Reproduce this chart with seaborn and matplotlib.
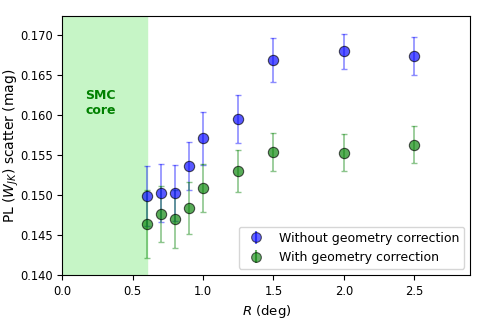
import numpy as np
import pandas as pd
import matplotlib
matplotlib.use("Agg")
import matplotlib.pyplot as plt
import seaborn as sns

R = [0.6, 0.7, 0.8, 0.9, 1.0, 1.25, 1.5, 2.0, 2.5]
scatter_without = [0.1499, 0.1503, 0.1503, 0.1536, 0.1571, 0.1595, 0.1669, 0.1680, 0.1674]
err_without = [0.0038, 0.0036, 0.0035, 0.0030, 0.0033, 0.0030, 0.0027, 0.0022, 0.0024]
scatter_with = [0.1464, 0.1477, 0.1470, 0.1484, 0.1509, 0.1530, 0.1554, 0.1553, 0.1563]
err_with = [0.0042, 0.0035, 0.0036, 0.0032, 0.0030, 0.0026, 0.0024, 0.0023, 0.0023]
labels = ["Without geometry correction", "With geometry correction"]
colors = ["blue", "green"]

df = pd.DataFrame({
    "R": R * 2,
    "scatter": scatter_without + scatter_with,
    "err": err_without + err_with,
    "series": [labels[0]] * len(R) + [labels[1]] * len(R),
})

fig, ax = plt.subplots(figsize=(4.8, 3.2), dpi=100)
ax.axvspan(0, 0.6, color="#c6f5c6", zorder=0)

handles = []
for lab, col in zip(labels, colors):
    sub = df[df["series"] == lab]
    ax.errorbar(sub["R"], sub["scatter"], yerr=sub["err"], fmt="none",
                ecolor=col, alpha=0.45, capsize=2.5, elinewidth=1.2, zorder=2)
    sns.scatterplot(data=sub, x="R", y="scatter", color=col, alpha=0.65,
                    s=55, edgecolor="black", linewidth=0.8, ax=ax, zorder=3, legend=False)
    h = ax.errorbar([], [], yerr=[], fmt="o", color=col, ecolor=col,
                    markersize=7, markeredgecolor="black", markeredgewidth=0.8,
                    alpha=0.6, capsize=2.5, label=lab)
    handles.append(h)

ax.text(0.27, 0.1615, "SMC\ncore", color="green", fontweight="bold",
        fontsize=9, ha="center", va="center")

ax.set_xlim(0, 2.9)
ax.set_ylim(0.140, 0.1724)
ax.set_xticks([0.0, 0.5, 1.0, 1.5, 2.0, 2.5])
yt = [0.140, 0.145, 0.150, 0.155, 0.160, 0.165, 0.170]
ax.set_yticks(yt)
ax.set_yticklabels([f"{v:.3f}" for v in yt])
ax.tick_params(labelsize=8.3)
ax.set_xlabel(r"$R$ (deg)", fontsize=9.5)
ax.set_ylabel(r"PL ($W_{JK}$) scatter (mag)", fontsize=10)
ax.yaxis.set_label_coords(-0.102, 0.5)
ax.legend(handles=handles, labels=labels, loc="lower right", fontsize=9)

fig.subplots_adjust(left=0.13, right=0.98, top=0.95, bottom=0.14)
fig.savefig("out.png", dpi=100)
